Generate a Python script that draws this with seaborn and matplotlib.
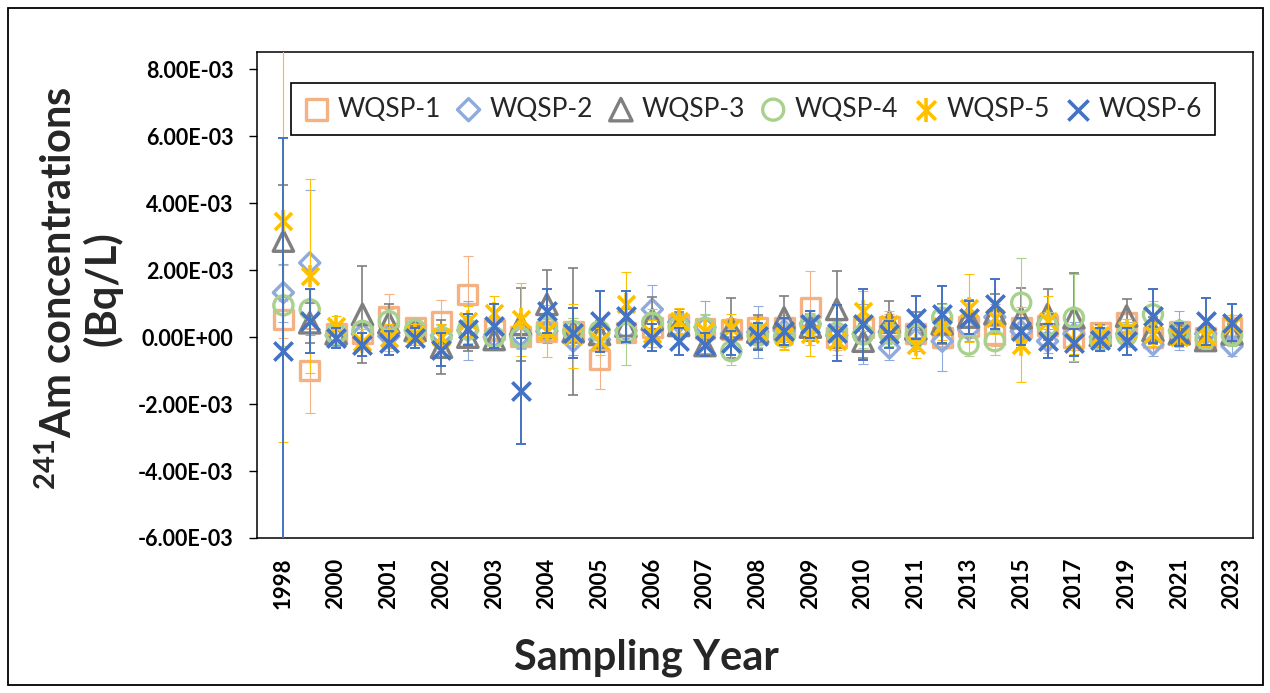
import matplotlib
matplotlib.use("Agg")
import matplotlib.pyplot as plt
from matplotlib.patches import Rectangle
from matplotlib.legend_handler import HandlerTuple
import numpy as np
import pandas as pd
import seaborn as sns

# sampling events (only every other label is shown on the axis)
sample_labels = ["1998", "1999", "2000", "2000", "2001", "2001", "2002", "2002",
                 "2003", "2003", "2004", "2004", "2005", "2005", "2006", "2006",
                 "2007", "2007", "2008", "2008", "2009", "2009", "2010", "2010",
                 "2011", "2012", "2013", "2014", "2015", "2016", "2017", "2018",
                 "2019", "2020", "2021", "2022", "2023"]

# 241Am concentrations, units of 1e-3 Bq/L
wqsp1 = [0.53, -1.00, 0.10, 0.10, 0.63, 0.28, 0.48, 1.28, 0.23, 0.03, 0.18, 0.18, -0.67,
         0.13, 0.30, 0.38, 0.25, 0.23, 0.28, 0.30, 0.88, -0.02, 0.28, 0.33, 0.10, 0.00,
         0.33, 0.08, 0.28, 0.35, -0.02, 0.13, 0.43, -0.02, 0.18, 0.00, 0.28]
wqsp2 = [1.33, 2.22, 0.05, 0.10, 0.03, 0.20, 0.05, 0.20, 0.00, 0.03, 0.18, -0.12, -0.07,
         0.20, 0.83, 0.45, 0.30, 0.10, 0.15, 0.20, 0.40, 0.05, 0.10, -0.32, -0.05, -0.12,
         0.23, 0.60, 0.18, -0.12, 0.10, 0.00, 0.10, -0.22, 0.20, 0.10, -0.27]
wqsp3 = [2.87, 0.43, 0.10, 0.68, 0.43, 0.20, -0.30, 0.00, -0.07, 0.38, 0.98, 0.16, 0.08,
         0.33, 0.53, 0.35, -0.25, 0.28, 0.15, 0.58, 0.30, 0.83, -0.12, 0.45, 0.25, 0.40,
         0.60, 0.70, 0.58, 0.68, 0.58, 0.05, 0.63, 0.20, 0.10, -0.10, 0.10]
wqsp4 = [0.95, 0.83, 0.10, 0.19, 0.48, 0.23, 0.00, 0.23, 0.00, 0.00, 0.30, 0.18, 0.18,
         0.13, 0.43, 0.30, 0.28, -0.42, 0.05, 0.00, 0.38, 0.13, 0.08, 0.10, 0.08, 0.58,
         -0.22, -0.12, 1.03, 0.35, 0.58, -0.10, 0.05, 0.68, 0.18, -0.05, 0.05]
wqsp5 = [3.47, 1.82, 0.33, -0.15, -0.02, 0.08, 0.00, 0.48, 0.73, 0.53, 0.18, 0.03, -0.12,
         0.98, 0.10, 0.48, 0.18, 0.28, 0.18, 0.03, 0.08, -0.12, 0.78, 0.38, -0.22, 0.33,
         0.88, 0.58, -0.22, 0.48, -0.10, 0.05, 0.20, 0.10, 0.00, 0.03, 0.35]
wqsp6 = [-0.40, 0.48, -0.02, -0.22, -0.17, -0.02, -0.37, 0.23, 0.33, -1.61, 0.78, 0.13, 0.48,
         0.63, -0.02, -0.12, -0.22, -0.17, 0.03, 0.18, 0.38, 0.13, 0.38, 0.08, 0.58, 0.68,
         0.58, 0.98, 0.18, -0.12, -0.17, -0.07, -0.12, 0.63, 0.08, 0.48, 0.43]

# 1-sigma uncertainties, same units
err1 = [0.55, 1.27, 0.25, 0.30, 0.66, 0.30, 0.62, 1.14, 0.35, 0.35, 0.30, 0.40, 0.88,
        0.30, 0.40, 0.35, 0.40, 0.35, 0.35, 0.35, 1.11, 0.35, 0.40, 0.35, 0.30, 0.35,
        0.35, 0.35, 0.40, 0.40, 0.35, 0.30, 0.30, 0.30, 0.30, 0.30, 0.30]
err2 = [0.87, 2.17, 0.30, 0.30, 0.35, 0.30, 0.35, 0.87, 0.30, 0.35, 0.35, 0.40, 0.35,
        0.35, 0.72, 0.40, 0.78, 0.35, 0.78, 0.35, 0.40, 0.35, 0.90, 0.35, 0.35, 0.88,
        0.35, 0.40, 0.35, 0.35, 0.35, 0.30, 0.35, 0.35, 0.58, 0.30, 0.30]
err3 = [1.67, 0.60, 0.30, 1.44, 0.57, 0.30, 0.80, 0.40, 0.30, 1.09, 1.04, 1.90, 0.40,
        0.50, 0.67, 0.40, 0.30, 0.90, 0.50, 0.64, 0.40, 1.14, 0.50, 0.63, 0.50, 0.60,
        0.50, 0.60, 0.90, 0.75, 1.33, 0.30, 0.50, 0.40, 0.30, 0.30, 0.30]
err4 = [1.20, 0.60, 0.30, 0.30, 0.35, 0.30, 0.35, 0.40, 0.30, 0.35, 0.35, 0.40, 0.35,
        0.97, 0.40, 0.35, 0.40, 0.40, 0.35, 0.35, 0.40, 0.35, 0.40, 0.35, 0.35, 0.40,
        0.35, 0.40, 1.34, 0.40, 1.30, 0.30, 0.35, 0.40, 0.30, 0.30, 0.30]
err5 = [6.60, 2.90, 0.30, 0.40, 0.40, 0.30, 0.40, 0.45, 0.51, 1.09, 0.78, 0.95, 0.40,
        0.97, 0.40, 0.40, 0.35, 0.40, 0.40, 0.40, 0.65, 0.40, 0.60, 0.40, 0.40, 0.40,
        1.01, 0.50, 1.11, 0.74, 0.40, 0.30, 0.35, 0.35, 0.30, 0.30, 0.30]
err6 = [6.36, 0.95, 0.30, 0.35, 0.35, 0.30, 0.50, 0.45, 0.65, 1.58, 0.65, 0.75, 0.91,
        0.76, 0.40, 0.40, 0.35, 0.35, 0.40, 0.40, 0.40, 0.83, 1.05, 0.40, 0.64, 0.84,
        0.50, 0.75, 0.40, 0.50, 0.40, 0.35, 0.40, 0.80, 0.35, 0.70, 0.55]

stations = ["WQSP-1", "WQSP-2", "WQSP-3", "WQSP-4", "WQSP-5", "WQSP-6"]
colors = ["#F4B183", "#8FAADC", "#7F7F7F", "#A9D18E", "#FFC000", "#4472C4"]
markers = ["s", "D", "^", "o", "x", "x"]
sizes = [185, 105, 215, 190, 150, 175]
err_lw = [0.8, 0.8, 1.2, 0.8, 0.8, 1.4]

values = [wqsp1, wqsp2, wqsp3, wqsp4, wqsp5, wqsp6]
errors = [err1, err2, err3, err4, err5, err6]
frames = []
for name, v, e in zip(stations, values, errors):
    frames.append(pd.DataFrame({"station": name, "idx": np.arange(len(v)),
                                "conc": np.array(v) * 1e-3, "err": np.array(e) * 1e-3}))
df = pd.concat(frames, ignore_index=True)

sns.set_theme(style="white")
plt.rcParams["font.family"] = ["Lato", "DejaVu Sans"]
plt.rcParams["mathtext.fontset"] = "custom"
plt.rcParams["mathtext.rm"] = "Lato:bold"
plt.rcParams["mathtext.bf"] = "Lato:bold"

fig = plt.figure(figsize=(12.7, 6.93), dpi=100)
ax = fig.add_axes([0.2026, 0.2237, 0.7843, 0.7017])

star_bar = None
for i, name in enumerate(stations):
    d = df[df["station"] == name]
    ax.errorbar(d["idx"], d["conc"], yerr=d["err"], fmt="none", ecolor=colors[i],
                elinewidth=err_lw[i], capsize=3.3, capthick=err_lw[i], zorder=2 + 2 * i)
    if markers[i] == "x":
        sns.scatterplot(data=d, x="idx", y="conc", marker="x", s=sizes[i],
                        color=colors[i], linewidth=2.6, ax=ax, zorder=3 + 2 * i, label=name)
        if name == "WQSP-5":
            # Excel-style star: an x with a vertical bar through it
            sns.scatterplot(data=d, x="idx", y="conc", marker="|", s=260,
                            color=colors[i], linewidth=2.6, ax=ax, zorder=3 + 2 * i)
            star_bar = ax.collections[-1]
    else:
        sns.scatterplot(data=d, x="idx", y="conc", marker=markers[i], s=sizes[i],
                        color=colors[i], facecolor="none", edgecolor=colors[i],
                        linewidth=2.4, ax=ax, zorder=3 + 2 * i, label=name)

# axes limits and ticks
ax.set_xlim(-0.99, 36.81)
ax.set_ylim(-6e-3, 8.53e-3)
yt = np.arange(-6, 9, 2) * 1e-3
ax.set_yticks(yt)
ax.set_yticklabels([f"{v:.2E}" for v in yt], fontweight="bold", fontsize=15.5)
ax.set_xticks(np.arange(0, len(sample_labels), 2))
ax.set_xticklabels(sample_labels[::2], rotation=90, fontweight="bold", fontsize=16)
ax.set_xticks(np.arange(-0.5, len(sample_labels), 1), minor=True)
ax.tick_params(axis="x", which="major", length=0, pad=14, colors="black")
ax.tick_params(axis="x", which="minor", length=5, width=1, direction="out", color="black")
ax.tick_params(axis="y", length=6, width=1, direction="out", pad=11, colors="black", left=True)
ax.set_xlabel("")
ax.set_ylabel("")
for sp in ax.spines.values():
    sp.set_color("black")
    sp.set_linewidth(1.1)

handles, labels = ax.get_legend_handles_labels()
handles = [(h, star_bar) if lab == "WQSP-5" else h for h, lab in zip(handles, labels)]
leg = ax.legend(handles, labels, loc="center", bbox_to_anchor=(0.498, 0.882), ncol=6,
                fontsize=19, frameon=True, fancybox=False, edgecolor="black", framealpha=1,
                handlelength=0.9, handletextpad=0.35, columnspacing=0.6, borderpad=0.5,
                markerscale=1.1, handler_map={tuple: HandlerTuple(ndivide=1, pad=0)})
leg.get_frame().set_linewidth(1.2)

fig.text(0.063, 0.584, "$^{241}$Am concentrations\n(Bq/L)", rotation=90, ha="center",
         va="center", fontsize=30, fontweight="bold", multialignment="center", linespacing=1.1)
fig.text(0.509, 0.0505, "Sampling Year", ha="center", va="center", fontsize=30,
         fontweight="bold")

# outer chart frame
fig.add_artist(Rectangle((8 / 1270, 8 / 693), 1255 / 1270, 677 / 693, transform=fig.transFigure,
                         fill=False, edgecolor="black", linewidth=1.3))

fig.savefig("out.png", dpi=100)
